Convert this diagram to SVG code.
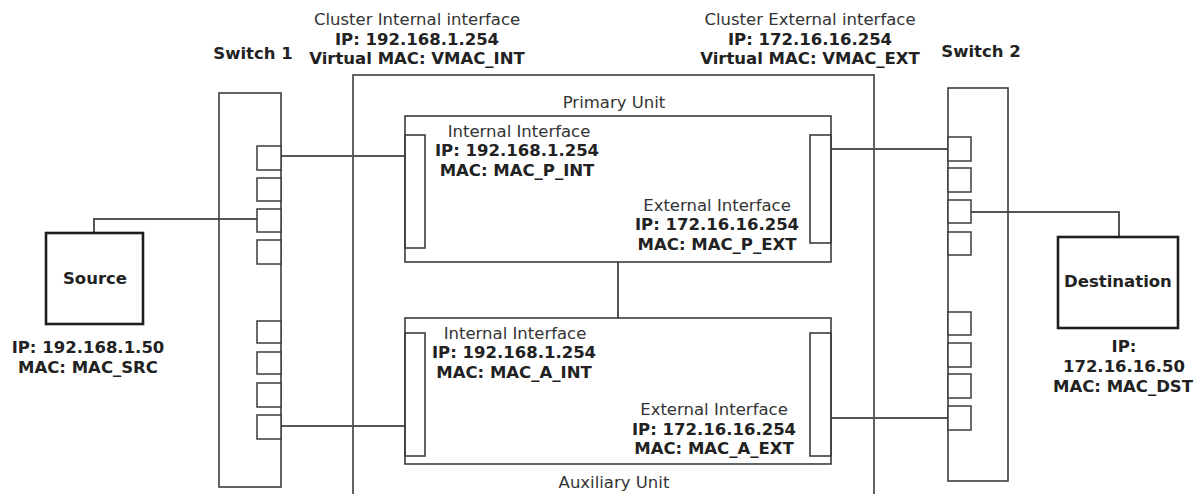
<svg xmlns="http://www.w3.org/2000/svg" width="1200" height="494" viewBox="0 0 1200 494">
<style>
text{font-family:"DejaVu Sans","Verdana",sans-serif;font-size:16.5px;text-anchor:middle;fill:#333}
.b{font-weight:bold;fill:#222}
.box{fill:none;stroke:#3c3c3c;stroke-width:1.6}
.host{fill:#fff;stroke:#1e1e1e;stroke-width:2.6}
.port{fill:#fff;stroke:#3c3c3c;stroke-width:1.5}
.wire{fill:none;stroke:#555;stroke-width:2}
</style>
<rect width="1200" height="494" fill="#fff"/>

<g id="cluster">
<rect class="box" x="353" y="75" width="521" height="440"/>
<text x="417" y="25">Cluster Internal interface</text>
<text class="b" x="417" y="45">IP: 192.168.1.254</text>
<text class="b" x="417" y="64">Virtual MAC: VMAC_INT</text>
<text x="810" y="25">Cluster External interface</text>
<text class="b" x="810" y="45">IP: 172.16.16.254</text>
<text class="b" x="810" y="64">Virtual MAC: VMAC_EXT</text>
</g>

<g id="connectors">
<path class="wire" d="M281,156 H405"/>
<path class="wire" d="M94,233 V219 H257"/>
<path class="wire" d="M281,426 H405"/>
<path class="wire" d="M831,149 H948"/>
<path class="wire" d="M831,418 H948"/>
<path class="wire" d="M971,212 H1119 V237"/>
<path class="wire" d="M618,262 V318"/>
</g>

<g id="switch1">
<rect class="box" x="219" y="93" width="62" height="394"/>
<rect class="port" x="257" y="146" width="24" height="24"/>
<rect class="port" x="257" y="178" width="24" height="23"/>
<rect class="port" x="257" y="209" width="24" height="23"/>
<rect class="port" x="257" y="240" width="24" height="24"/>
<rect class="port" x="257" y="321" width="24" height="22"/>
<rect class="port" x="257" y="352" width="24" height="22"/>
<rect class="port" x="257" y="383" width="24" height="24"/>
<rect class="port" x="257" y="415" width="24" height="24"/>
<text class="b" x="253" y="59">Switch 1</text>
</g>

<g id="switch2">
<rect class="box" x="948" y="88" width="60" height="393"/>
<rect class="port" x="948" y="137" width="23" height="24"/>
<rect class="port" x="948" y="168" width="23" height="24"/>
<rect class="port" x="948" y="200" width="23" height="23"/>
<rect class="port" x="948" y="232" width="23" height="23"/>
<rect class="port" x="948" y="312" width="23" height="23"/>
<rect class="port" x="948" y="343" width="23" height="24"/>
<rect class="port" x="948" y="374" width="23" height="24"/>
<rect class="port" x="948" y="406" width="23" height="24"/>
<text class="b" x="981" y="57">Switch 2</text>
</g>

<g id="primary">
<text x="614" y="108">Primary Unit</text>
<rect class="box" x="405" y="116" width="426" height="146"/>
<rect class="box" x="405" y="135" width="20" height="113"/>
<rect class="box" x="810" y="135" width="21" height="108"/>
<text x="519" y="137">Internal Interface</text>
<text class="b" x="517" y="156">IP: 192.168.1.254</text>
<text class="b" x="517" y="176">MAC: MAC_P_INT</text>
<text x="717" y="211">External Interface</text>
<text class="b" x="717" y="230">IP: 172.16.16.254</text>
<text class="b" x="717" y="250">MAC: MAC_P_EXT</text>
</g>

<g id="auxiliary">
<rect class="box" x="405" y="318" width="426" height="146"/>
<rect class="box" x="405" y="333" width="20" height="123"/>
<rect class="box" x="810" y="333" width="21" height="123"/>
<text x="515" y="339">Internal Interface</text>
<text class="b" x="514" y="358">IP: 192.168.1.254</text>
<text class="b" x="514" y="378">MAC: MAC_A_INT</text>
<text x="714" y="415">External Interface</text>
<text class="b" x="714" y="435">IP: 172.16.16.254</text>
<text class="b" x="714" y="454">MAC: MAC_A_EXT</text>
<text x="614" y="488">Auxiliary Unit</text>
</g>

<g id="source">
<rect class="host" x="46" y="233" width="97" height="91"/>
<text class="b" x="95" y="284">Source</text>
<text class="b" x="88" y="353">IP: 192.168.1.50</text>
<text class="b" x="88" y="373">MAC: MAC_SRC</text>
</g>

<g id="destination">
<rect class="host" x="1058" y="237" width="120" height="91"/>
<text class="b" x="1118" y="287">Destination</text>
<text class="b" x="1124" y="352">IP:</text>
<text class="b" x="1124" y="372">172.16.16.50</text>
<text class="b" x="1123" y="392">MAC: MAC_DST</text>
</g>
</svg>
